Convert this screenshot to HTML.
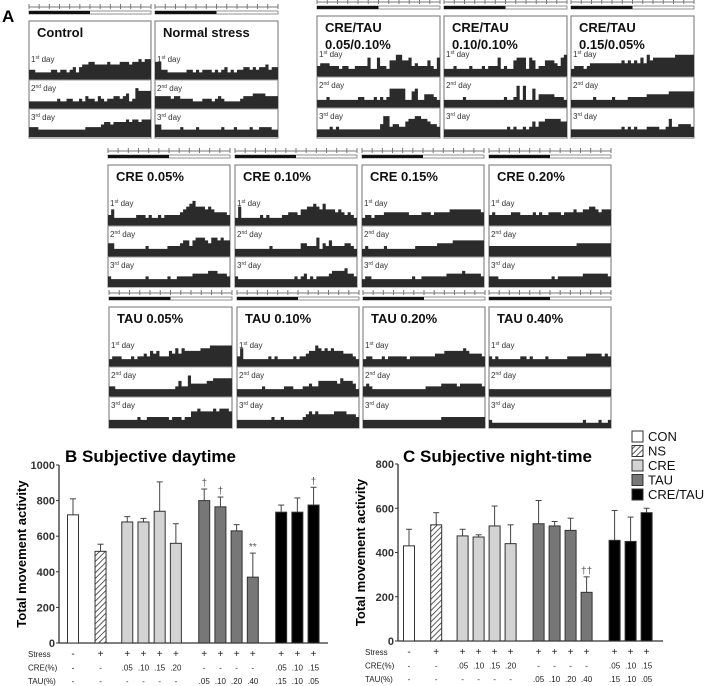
<!DOCTYPE html>
<html><head><meta charset="utf-8"><style>
body{margin:0;background:#fff;width:708px;height:686px;overflow:hidden;font-family:"Liberation Sans",Arial,sans-serif}
svg{display:block}
</style></head><body>
<svg id="fig" width="708" height="686" viewBox="0 0 708 686">
<defs><pattern id="hatch" width="4" height="4" patternUnits="userSpaceOnUse" patternTransform="rotate(45)"><rect width="4" height="4" fill="#fff"/><line x1="0" y1="0" x2="0" y2="4" stroke="#333" stroke-width="1.6"/></pattern></defs>
<text x="2" y="22" font-size="17" font-weight="bold">A</text>
<g id="acto"></g>
<g id="chartB"></g>
<g id="chartC"></g>
<g id="legend"></g>
</svg>
<script>
const NS='http://www.w3.org/2000/svg';
function mk(tag,attrs,parent,txt){const e=document.createElementNS(NS,tag);for(const k in attrs)e.setAttribute(k,attrs[k]);if(txt!==undefined)e.textContent=txt;parent.appendChild(e);return e;}

// ---------- actogram data (height level 0-9 per bin) ----------
const actoNames=['Control','Normal stress','CRE/TAU|0.05/0.10%','CRE/TAU|0.10/0.10%','CRE/TAU|0.15/0.05%','CRE 0.05%','CRE 0.10%','CRE 0.15%','CRE 0.20%','TAU 0.05%','TAU 0.10%','TAU 0.20%','TAU 0.40%'];
const actoDay1=['332222233233234245566555565556665667677','663322222233232333232342323344343445344','344433323322333362263325577556343335326','222322223222323336232256662652335554367','233323444444444454545464756666666777777','352222222333232232333334567866656544443','262222223232222334443556676575554543432','233233344444444333344434444455555555554','343333344433334343344443444544556654555','233322232334354533354646555556667777777','362222222232322222323345576565655544432','233222323333332333333334445555556544443','323222222233232222322222233333344444343'];
const actoDay2=['222222222322332232433243233443452376666','444443443333222333234322222344455554444','222322222222233222323236666622562244432','222222322222222222232237272262444443332','222222232222232222333333444444455555555','442222222222322222233334553566654665655','222222222223222222222443336243533334432','232222232222222223333333444445555555555','333333333333333333333333333344444444444','332222222222222222222353374444455666666','222222223222222333222334335555554655542','343222222222222222223333344444344444443','222222222222222222222222222222222222222'];
const actoDay3=['333222222222222222333334554555565665666','442222223222232222222322232222322333322','222232322222222222224773443356677665443','222222222222222222223232232353556666655','222222222222222232323222333322363344443','322222222222322222232233333444445554443','322222222222222222232342323333455556443','233222222222222232233333333444445444443','333222222222222222223233333333444444443','222222222322333333323332335565555656665','222222222223223222222345454444455554443','222222222222222222222222233333333333333','211111111111111111111111111111211112112'];
// panel boxes [x, y, w, h, rowBottoms...]
const actoBoxes=[[29,21,122,117,80,109,137],[155,21,123,117,80,109,137],[317,16,123,122,77,108,137],[444,16,123,122,77,108,137],[571,16,123,122,77,108,137],
[108,165,122,122,226,257,287],[235,165,122,122,226,257,287],[362,165,122,122,226,257,287],[489,165,122,122,226,257,287],
[109,307,123,121,367,397,428],[237,307,122,121,367,397,428],[363,307,122,121,367,397,428],[489,307,122,121,367,397,428]];
const acto=document.getElementById('acto');
actoBoxes.forEach((b,i)=>{
  const [x,y,w,h,r1,r2,r3]=b;
  const g=mk('g',{},acto);
  
  
  const sy=y-8;
  mk('line',{x1:x,y1:sy-6,x2:x+w,y2:sy-6,stroke:'#777','stroke-width':1},g);
  for(let t=0;t<=12;t++)mk('line',{x1:x+w*t/12,y1:sy-9,x2:x+w*t/12,y2:sy-4,stroke:'#777','stroke-width':1},g);
  mk('rect',{x:x,y:sy-2,width:w,height:3,fill:'#fff',stroke:'#777','stroke-width':0.8},g);
  mk('rect',{x:x,y:sy-2,width:w/2,height:3,fill:'#111'},g);
  mk('rect',{x:x,y:y,width:w,height:h,fill:'#fff',stroke:'#888','stroke-width':1.2},g);
  const parts=actoNames[i].split('|');
  parts.forEach((p,j)=>mk('text',{x:x+8,y:y+16+j*17,'font-size':13,'font-weight':'bold',fill:'#111'},g,p));
  const rows=[actoDay1[i],actoDay2[i],actoDay3[i]];const bottoms=[r1,r2,r3];
  const labs=['1st','2nd','3rd'];
  rows.forEach((s,k)=>{
    const bot=bottoms[k];
    const rh=(k==0? bottoms[1]-bot : bot-bottoms[k-1]);
    const n=s.length;const bw=w/n;let d='M'+x+','+bot;
    for(let q=0;q<n;q++){const hh=rh*(0.08+(+s[q])/9*0.82);d+=' L'+(x+q*bw)+','+(bot-hh)+' L'+(x+(q+1)*bw)+','+(bot-hh);}
    d+=' L'+(x+w)+','+bot+' Z';
    mk('path',{d:d,fill:'#2b2b2b'},g);
    if(k<2)mk('line',{x1:x,y1:bot,x2:x+w,y2:bot,stroke:'#999','stroke-width':1},g);
    const top=bot-rh;
    const t=mk('text',{x:x+2,y:top+11,'font-size':8,fill:'#333'},g);
    mk('tspan',{},t,labs[k][0]);
    mk('tspan',{'font-size':5,dy:-3},t,labs[k].slice(1));
    mk('tspan',{dy:3},t,' day');
  });
});

// ---------- bar chart data ----------
const groups=['CON','NS','CRE','CRE','CRE','CRE','TAU','TAU','TAU','TAU','CRE/TAU','CRE/TAU','CRE/TAU'];
const dayMeans=[720,515,680,680,740,560,800,765,630,370,735,735,775];
const dayErrs=[90,40,30,20,165,110,65,55,35,135,40,80,100];
const nightMeans=[430,525,475,470,520,440,530,520,500,220,455,450,580];
const nightErrs=[75,55,30,10,90,85,105,20,55,70,135,110,20];
const dayMarks=['','','','','','','†','†','','**','','','†'];
const nightMarks=['','','','','','','','','','††','','',''];
const stressRow=['-','+','+','+','+','+','+','+','+','+','+','+','+'];
const creRow=['-','-','.05','.10','.15','.20','-','-','-','-','.05','.10','.15'];
const tauRow=['-','-','-','-','-','-','.05','.10','.20','.40','.15','.10','.05'];
const dayTicks=[0,200,400,600,800,1000];
const nightTicks=[0,200,400,600,800];
const fills={'CON':'#fff','NS':'url(#hatch)','CRE':'#d3d3d3','TAU':'#777','CRE/TAU':'#000'};
const slots=[0,1.7,3.35,4.35,5.35,6.35,8.1,9.1,10.1,11.1,12.85,13.85,14.85];

function barChart(gid,o){
  const g=document.getElementById(gid);
  const y=v=>o.y0-(v/o.max)*(o.y0-o.yTop);
  const x=i=>o.x0+slots[i]*o.step;
  mk('text',{x:o.titleX,y:o.titleY,'font-size':17,'font-weight':'bold',},g,o.title);
  mk('line',{x1:o.axX,y1:o.yTop,x2:o.axX,y2:o.y0,stroke:'#333','stroke-width':1.3},g);
  mk('line',{x1:o.axX,y1:o.y0,x2:o.axEnd,y2:o.y0,stroke:'#333','stroke-width':1.3},g);
  o.ticks.forEach(t=>{
    mk('line',{x1:o.axX-3,y1:y(t),x2:o.axX,y2:y(t),stroke:'#333'},g);
    const tt=mk('text',{x:o.axX-4,y:y(t)+4,'font-size':11,'font-weight':'bold','text-anchor':'end',fill:'#333'},g,t);
    
    
  });
  const yl=mk('text',{x:0,y:0,'font-size':13,'font-weight':'bold','text-anchor':'middle',transform:`translate(${o.axX-33},${(o.y0+o.yTop)/2}) rotate(-90)`},g,'Total movement activity');
  
  
  o.means.forEach((m,i)=>{
    const cx=x(i),bw=11;
    const et=y(m+o.errs[i]);
    mk('line',{x1:cx,y1:y(m),x2:cx,y2:et,stroke:'#444','stroke-width':1},g);
    mk('line',{x1:cx-3,y1:et,x2:cx+3,y2:et,stroke:'#444','stroke-width':1},g);
    const r=mk('rect',{x:cx-bw/2,y:y(m),width:bw,height:o.y0-y(m),fill:fills[groups[i]],stroke:'#333','stroke-width':1},g);
    
    
    if(o.marks[i])mk('text',{x:cx,y:et-3,'font-size':10,'text-anchor':'middle',fill:'#555'},g,o.marks[i]);
    [stressRow,creRow,tauRow].forEach((row,k)=>mk('text',{x:cx,y:o.y0+14+k*13.5,'font-size':k==0?10:8,'text-anchor':'middle',fill:'#222'},g,row[i]));
  });
  ['Stress','CRE(%)','TAU(%)'].forEach((l,k)=>mk('text',{x:o.labX,y:o.y0+14+k*13.5,'font-size':8,fill:'#222'},g,l));
}
barChart('chartB',{name:'daytime',title:'B  Subjective daytime',titleX:65,titleY:462,axX:59,axEnd:328,y0:643,yTop:465,max:1000,x0:73,step:16.2,ticks:dayTicks,means:dayMeans,errs:dayErrs,marks:dayMarks,labX:28});
barChart('chartC',{name:'nighttime',title:'C  Subjective night-time',titleX:403,titleY:462,axX:398,axEnd:663,y0:641,yTop:464,max:800,x0:409,step:16.0,ticks:nightTicks,means:nightMeans,errs:nightErrs,marks:nightMarks,labX:365});

const legNames=['CON','NS','CRE','TAU','CRE/TAU'];
const lg=document.getElementById('legend');
legNames.forEach((n,i)=>{
  const yy=431+i*14.5;
  mk('rect',{x:632,y:yy,width:11,height:11,fill:fills[n],stroke:'#333','stroke-width':1},lg);
  const t=mk('text',{x:648,y:yy+10,'font-size':13,fill:'#111'},lg,n);
  
  
});
</script>
</body></html>
